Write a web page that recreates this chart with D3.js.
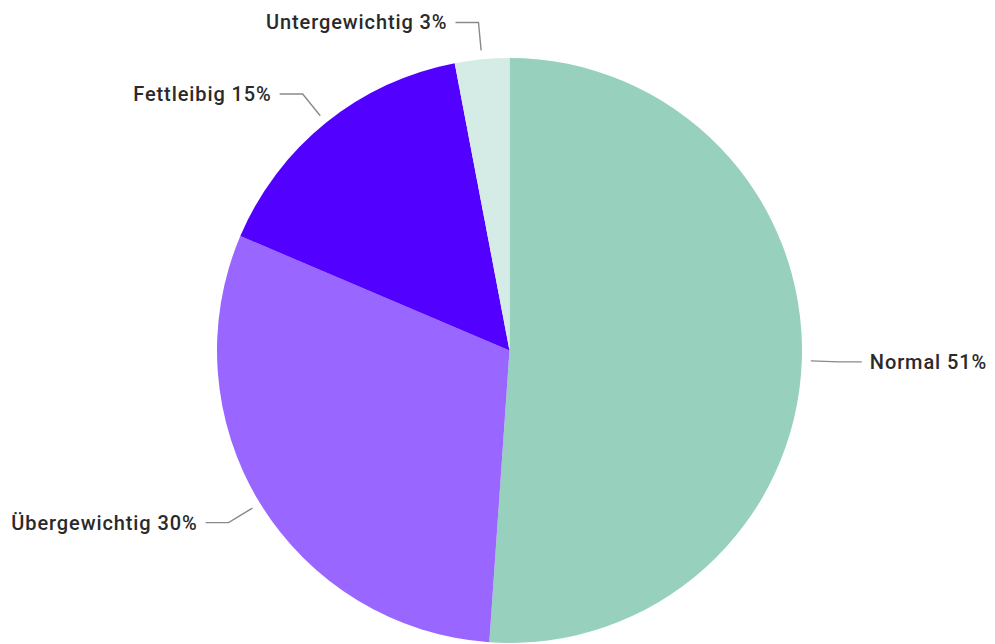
<!DOCTYPE html>
<html>
<head>
<meta charset="utf-8">
<script src="https://cdn.jsdelivr.net/npm/d3@7"></script>
<style>
  html, body { margin: 0; padding: 0; background: #ffffff; }
  svg { display: block; }
</style>
</head>
<body>
<svg id="chart" width="995" height="644"></svg>
<script>
const categories = ["Normal", "Übergewichtig", "Fettleibig", "Untergewichtig"];
const values = [51.1, 30.3, 15.6, 3.0];
const percentLabels = ["51%", "30%", "15%", "3%"];
const colors = ["#97d0bd", "#9966ff", "#5200ff", "#d5ece6"];

const width = 995, height = 644;
const cx = 509.5, cy = 350.5, radius = 292.5;

const svg = d3.select("#chart");
const g = svg.append("g").attr("transform", `translate(${cx},${cy})`);

const data = categories.map((c, i) => ({ name: c, value: values[i], label: percentLabels[i], color: colors[i] }));

const pie = d3.pie().sort(null).value(d => d.value);
const arcs = pie(data);
const arc = d3.arc().innerRadius(0).outerRadius(radius);

g.selectAll("path.slice")
  .data(arcs)
  .join("path")
  .attr("class", "slice")
  .attr("d", arc)
  .attr("fill", d => d.data.color);

const innerLabelArc = d3.arc().innerRadius(radius + 9).outerRadius(radius + 9);
const elbowArc = d3.arc().innerRadius(radius + 37).outerRadius(radius + 37);
const horiz = 23, gap = 8;

arcs.forEach(a => {
  const p1 = innerLabelArc.centroid(a);
  const p2 = elbowArc.centroid(a);
  const mid = (a.startAngle + a.endAngle) / 2;
  const right = mid < Math.PI;
  const p3 = [p2[0] + (right ? horiz : -horiz), p2[1]];
  g.append("polyline")
    .attr("points", [p1, p2, p3].map(p => p.join(",")).join(" "))
    .attr("fill", "none")
    .attr("stroke", "#8a8a8a")
    .attr("stroke-width", 1.4);
  g.append("text")
    .attr("x", p3[0] + (right ? gap : -gap))
    .attr("y", p3[1])
    .attr("dy", "0.35em")
    .attr("text-anchor", right ? "start" : "end")
    .attr("font-family", "Roboto, 'DejaVu Sans', sans-serif")
    .attr("font-weight", 500)
    .attr("font-size", 20)
    .attr("letter-spacing", "0.9px")
    .attr("fill", "#2a2a2a")
    .text(`${a.data.name} ${a.data.label}`);
});
</script>
</body>
</html>
